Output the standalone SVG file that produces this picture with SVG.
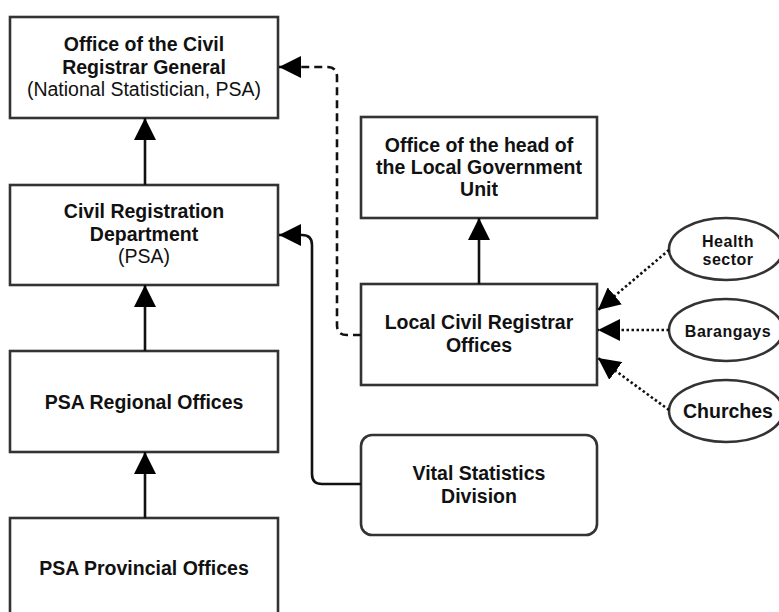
<svg xmlns="http://www.w3.org/2000/svg" width="779" height="612" viewBox="0 0 779 612">
<style>
.box{fill:#fff;stroke:#333;stroke-width:2.6}
.t{font-family:"Liberation Sans",Arial,sans-serif;font-size:19.5px;font-weight:bold;fill:#111;text-anchor:middle}
.r{font-weight:normal}
.s{font-size:16px;letter-spacing:0.5px}
.c{fill:none;stroke:#111;stroke-width:2.6}
.dash{stroke-dasharray:8 5}
.dot{stroke-dasharray:2.5 2.5;stroke-width:2.6}
</style>
<defs>
<marker id="ah" viewBox="0 0 22 22" refX="22" refY="11" markerWidth="22" markerHeight="22" markerUnits="userSpaceOnUse" orient="auto">
<path d="M0,0 L22,11 L0,22 z" fill="#000"/>
</marker>
</defs>
<g id="n1"><rect class="box" x="10" y="17" width="268" height="101"/>
<text class="t" x="144" y="51">Office of the Civil</text>
<text class="t" x="144" y="74">Registrar General</text>
<text class="t r" x="144" y="96">(National Statistician, PSA)</text></g>
<g id="n2"><rect class="box" x="10" y="185" width="268" height="100"/>
<text class="t" x="144" y="218">Civil Registration</text>
<text class="t" x="144" y="241">Department</text>
<text class="t r" x="144" y="263">(PSA)</text></g>
<g id="n3"><rect class="box" x="10" y="351" width="268" height="101"/>
<text class="t" x="144" y="409">PSA Regional Offices</text></g>
<g id="n4"><rect class="box" x="10" y="518" width="268" height="101"/>
<text class="t" x="144" y="575">PSA Provincial Offices</text></g>
<g id="n5"><rect class="box" x="361" y="117" width="236" height="101"/>
<text class="t" x="479" y="152">Office of the head of</text>
<text class="t" x="479" y="174">the Local Government</text>
<text class="t" x="479" y="196">Unit</text></g>
<g id="n6"><rect class="box" x="361" y="284" width="236" height="101"/>
<text class="t" x="479" y="329">Local Civil Registrar</text>
<text class="t" x="479" y="352">Offices</text></g>
<g id="n7"><rect class="box" x="361" y="435" width="236" height="100" rx="11"/>
<text class="t" x="479" y="480">Vital Statistics</text>
<text class="t" x="479" y="503">Division</text></g>
<g id="n8"><ellipse class="box" cx="726" cy="249" rx="57" ry="31"/>
<text class="t s" x="728" y="247">Health</text>
<text class="t s" x="728" y="265">sector</text></g>
<g id="n9"><ellipse class="box" cx="726" cy="330" rx="57" ry="31"/>
<text class="t s" x="728" y="337">Barangays</text></g>
<g id="n10"><ellipse class="box" cx="726" cy="411" rx="57" ry="31"/>
<text class="t" x="728" y="418">Churches</text></g>
<g id="connectors">
<path class="c" d="M145,185 L145,118" marker-end="url(#ah)"/>
<path class="c" d="M145,351 L145,285" marker-end="url(#ah)"/>
<path class="c" d="M145,518 L145,452" marker-end="url(#ah)"/>
<path class="c" d="M479,284 L479,218" marker-end="url(#ah)"/>
<path class="c" d="M361,484 L322,484 Q312,484 312,474 L312,245 Q312,235 302,235 L279,235" marker-end="url(#ah)"/>
<path class="c dash" d="M361,335 L347,335 Q337,335 337,325 L337,77 Q337,67 327,67 L279,67" marker-end="url(#ah)"/>
<path class="c dot" d="M669,250 L598,310" marker-end="url(#ah)"/>
<path class="c dot" d="M669,330 L598,330" marker-end="url(#ah)"/>
<path class="c dot" d="M669,410 L598,358" marker-end="url(#ah)"/>
</g>
</svg>
